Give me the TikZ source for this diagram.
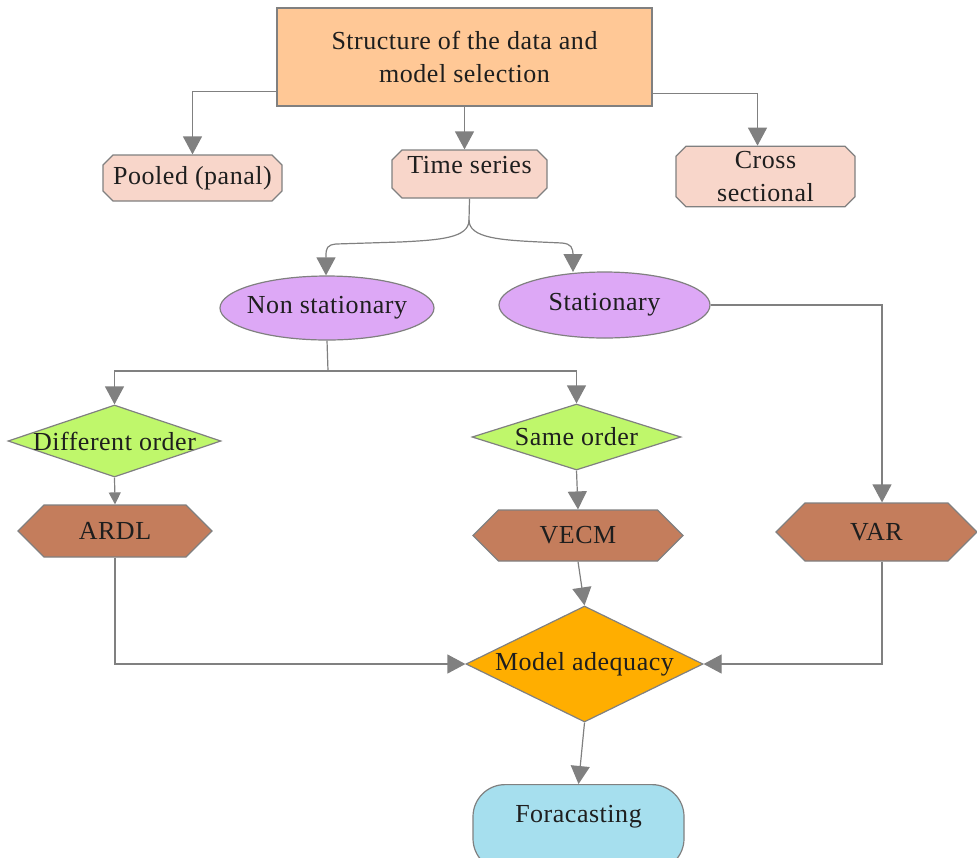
\documentclass[tikz,border=0pt]{standalone}
\usepackage{fontspec}
\setmainfont{Liberation Serif}[LetterSpace=2]
\usetikzlibrary{arrows.meta,positioning,shapes.geometric,shapes.misc,shapes.symbols}

\definecolor{peach}{HTML}{FFC896}
\definecolor{blush}{HTML}{F8D6CA}
\definecolor{lilac}{HTML}{DDA8F6}
\definecolor{lime}{HTML}{BFF76B}
\definecolor{clay}{HTML}{C47D5C}
\definecolor{amber}{HTML}{FFAE00}
\definecolor{sky}{HTML}{A6DFEE}
\definecolor{ink}{HTML}{1E1E1E}

\tikzset{
  every label/.style={text=ink, inner sep=0pt, font=\fontsize{13}{16.5}\selectfont},
  base/.style={draw=gray, line width=0.6pt, text=ink, inner sep=0pt, align=center,
    font=\fontsize{13}{16.5}\selectfont},
  topbox/.style={base, rectangle, fill=peach},
  chambox/.style={base, chamfered rectangle, chamfered rectangle xsep=2.5pt,
    chamfered rectangle ysep=2.5pt, fill=blush},
  oval/.style={base, ellipse, fill=lilac},
  choice/.style={base, diamond, fill=lime},
  hexbox/.style={base, signal, signal to=west and east, signal pointer angle=90, fill=clay},
  endbox/.style={base, rectangle, rounded corners=16pt, fill=sky},
  arr/.style={draw=gray, line width=0.6pt, -{Triangle[width=9.5pt,length=9pt]}},
  smallarr/.style={draw=gray, line width=0.6pt, -{Triangle[width=6pt,length=6pt]}},
  line/.style={draw=gray, line width=0.6pt}
}

\begin{document}
\begin{tikzpicture}[x=0.5pt,y=-0.5pt]
\useasboundingbox (0,0) rectangle (977,857);

% top
\node[topbox, minimum width=187.5pt, minimum height=49pt] (top) at (464.5,57)
  {Structure of the data and\\model selection};

% data types
\node[chambox, minimum width=89.5pt, minimum height=23pt] (pool) at (192.5,178) {Pooled (panal)};
\node[chambox, minimum width=77.5pt, minimum height=24pt, text depth=9pt] (ts) at (469.5,174) {Time series};
\node[chambox, minimum width=89.5pt, minimum height=28.5pt] (cross) at (765.5,176.5) {Cross\\sectional};

% stationarity
\node[oval, inner xsep=-6pt, minimum width=107pt, minimum height=32pt] (ns) at (327,308) {Non stationary};
\node[oval, minimum width=105.5pt, minimum height=33pt] (stat) at (604.5,305) {Stationary};

% order of integration
\node[choice, minimum width=106.5pt, minimum height=36pt, label=center:Different order] (diff) at (114.5,441) {};
\node[choice, minimum width=104.5pt, minimum height=33pt, label=center:Same order] (same) at (576.5,437) {};

% models
\node[hexbox, minimum width=97pt, minimum height=26pt] (ardl) at (115,531) {ARDL};
\node[hexbox, minimum width=105pt, minimum height=25.5pt] (vecm) at (578,535.5) {VECM};
\node[hexbox, minimum width=100.5pt, minimum height=29pt] (var) at (876.5,532) {VAR};

% checking and forecasting
\node[choice, fill=amber, minimum width=118.5pt, minimum height=58pt, label=center:Model adequacy] (model) at (584.5,664) {};
\node[endbox, anchor=north, minimum width=105.5pt, minimum height=43pt, text depth=14pt] (fore) at (578.5,784) {Foracasting};

% connectors
\draw[arr] (top.south west) ++(0,-15) -| (pool.north);
\draw[arr] (top.south) -- (top.south |- ts.north);
\draw[arr] (top.south east) ++(0,-13) -| ([xshift=-4pt]cross.north);

\draw[line] (ts.south) -- (469,220) coordinate (tsb);
\draw[arr] (tsb) .. controls (469,238) and (440,240) .. (400,242) -- (336,244)
  .. controls (327,245) and (326,248) .. (326,256) -- (ns.north -| 326,0);
\draw[arr] (tsb) .. controls (469,238) and (500,240) .. (540,242) -- (562,243)
  .. controls (571,244) and (573,247) .. (573,256) -- (573,272);

\draw[line] (ns.south) -- (328,371) coordinate (nsb);
\draw[arr] (nsb) -| (diff.north);
\draw[arr] (nsb) -| (same.north);
\draw[arr] (stat.east) -| ([xshift=2.75pt]var.north);

\draw[smallarr] (diff.south) -- (ardl.north);
\draw[arr] (same.south) -- (vecm.north);

\draw[arr] (ardl.south) |- (model.west);
\draw[arr] ([xshift=2.75pt]var.south) |- (model.east);
\draw[arr] (vecm.south) -- (model.north);
\draw[arr] (model.south) -- (fore.north);
\end{tikzpicture}
\end{document}
